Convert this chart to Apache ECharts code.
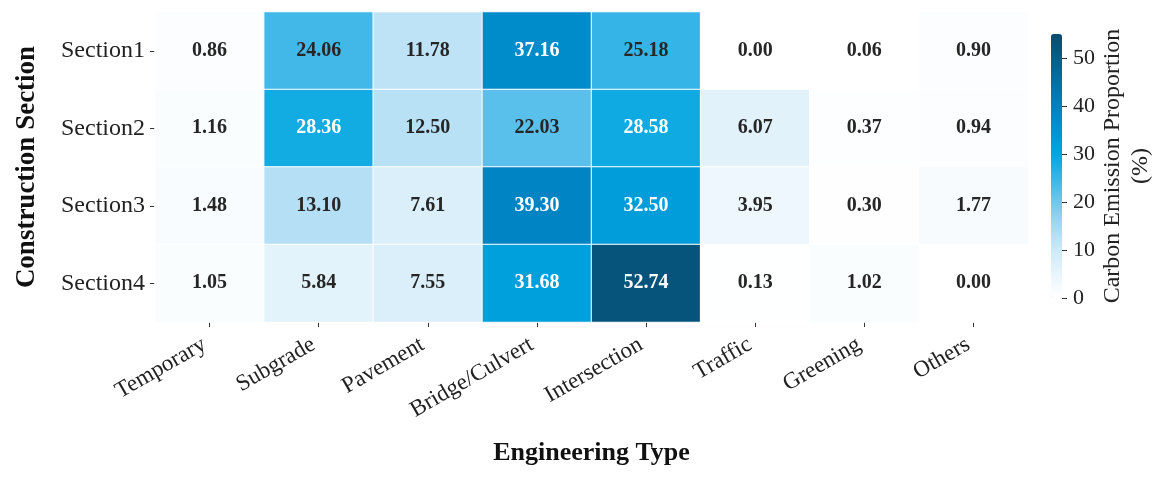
<!DOCTYPE html>
<html>
<head>
<meta charset="utf-8">
<script src="https://cdn.jsdelivr.net/npm/echarts@6/dist/echarts.min.js"></script>
<style>
  html, body { margin: 0; padding: 0; background: #fff; }
  #heat { width: 1160px; height: 481px; }
</style>
</head>
<body>
<div id="heat"></div>
<script>
let types = ["Temporary", "Subgrade", "Pavement", "Bridge/Culvert", "Intersection", "Traffic", "Greening", "Others"];
let sections = ["Section1", "Section2", "Section3", "Section4"];
let section1 = [0.86, 24.06, 11.78, 37.16, 25.18, 0.00, 0.06, 0.90];
let section2 = [1.16, 28.36, 12.50, 22.03, 28.58, 6.07, 0.37, 0.94];
let section3 = [1.48, 13.10, 7.61, 39.30, 32.50, 3.95, 0.30, 1.77];
let section4 = [1.05, 5.84, 7.55, 31.68, 52.74, 0.13, 1.02, 0.00];
let barTicks = [0, 10, 20, 30, 40, 50];

let font = "Liberation Serif";
let heat = echarts.init(document.getElementById("heat"));

// build [x, y, value] cells, white text on the dark ones
let cells = [];
[section1, section2, section3, section4].forEach(function (row, y) {
  row.forEach(function (v, x) {
    cells.push({
      value: [x, y, v],
      label: { color: v > 27 ? "#ffffff" : "#262626" },
    });
  });
});

heat.setOption({
  backgroundColor: "#fff",
  animation: false,
  grid: [
    { left: 155, top: 12, width: 873, height: 310, outerBoundsMode: "none" },
    { left: 1051, top: 34, width: 11, height: 264, outerBoundsMode: "none" },
  ],
  xAxis: [
    {
      type: "category",
      data: types,
      name: "Engineering Type",
      nameLocation: "middle",
      nameGap: 118,
      nameTextStyle: { color: "#111", fontSize: 26, fontWeight: "bold", fontFamily: font },
      axisLine: { show: false },
      axisTick: { show: true, alignWithLabel: true, length: 5, lineStyle: { color: "#333" } },
      splitLine: { show: false },
      axisLabel: { rotate: 30, margin: 18, padding: [0, 6, 0, 0], color: "#222", fontSize: 23, fontFamily: font },
    },
    {
      gridIndex: 1,
      type: "value",
      show: false,
    },
  ],
  yAxis: [
    {
      type: "category",
      data: sections,
      inverse: true,
      name: "Construction Section",
      nameLocation: "middle",
      nameGap: 114,
      nameTextStyle: { color: "#111", fontSize: 27, fontWeight: "bold", fontFamily: font },
      axisLine: { show: false },
      axisTick: { show: true, alignWithLabel: true, length: 5, lineStyle: { color: "#333" } },
      splitLine: { show: false },
      axisLabel: { margin: 10, color: "#222", fontSize: 24, fontFamily: font },
    },
    {
      gridIndex: 1,
      type: "value",
      position: "right",
      z: 10,
      min: 0,
      max: 55,
      name: "Carbon Emission Proportion\n(%)",
      nameLocation: "middle",
      nameRotate: 90,
      nameGap: 36,
      nameTextStyle: { color: "#222", fontSize: 24, fontFamily: font, lineHeight: 28 },
      axisLine: { show: false, onZero: false },
      splitLine: { show: false },
      axisTick: { show: true, inside: false, length: 5, customValues: barTicks, lineStyle: { color: "#333" } },
      axisLabel: { margin: 11, color: "#222", fontSize: 22, fontFamily: font, customValues: barTicks },
    },
  ],
  visualMap: {
    type: "continuous",
    seriesIndex: 0,
    min: 0,
    max: 55,
    orient: "vertical",
    left: 1051,
    top: 34,
    itemWidth: 11,
    itemHeight: 264,
    padding: 0,
    calculable: false,
    hoverLink: false,
    inRange: {
      color: [
        "#ffffff", "#e8f5fc", "#cde9f8", "#a5d9f3", "#6fc7ee", "#36b5e7",
        "#00a6e0", "#0093d3", "#0081c0", "#0070a5", "#005e8b", "#0b4b6e",
      ],
    },
  },
  series: [
    {
      type: "heatmap",
      data: cells,
      itemStyle: { borderColor: "#ffffff", borderWidth: 1 },
      label: {
        show: true,
        fontSize: 20,
        fontWeight: "bold",
        fontFamily: font,
        formatter: function (p) {
          return p.value[2].toFixed(2);
        },
      },
    },
    {
      type: "scatter",
      xAxisIndex: 1,
      yAxisIndex: 1,
      data: [],
    },
  ],
});
</script>
</body>
</html>
